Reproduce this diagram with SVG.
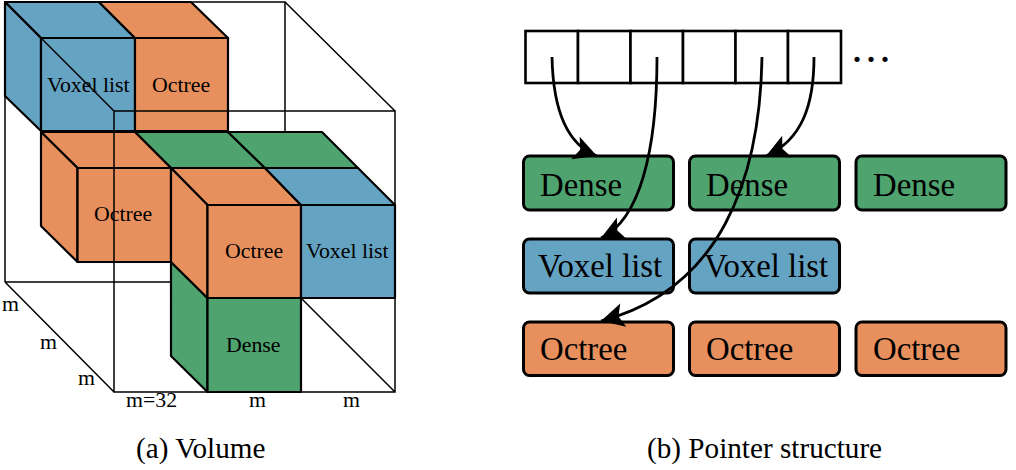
<svg xmlns="http://www.w3.org/2000/svg" width="1016" height="470" viewBox="0 0 1016 470">
<style>
text{font-family:"Liberation Serif","Times New Roman",serif;fill:#000}
.s{font-size:21.800px}
.b{font-size:32.800px}
.c{font-size:29.200px}
.f{fill:none;stroke:#000;stroke-width:1.5}
.g,.bl,.o{stroke:#000;stroke-width:2.200;stroke-linejoin:round}
.g{fill:#4fa36f}.bl{fill:#65a3c3}.o{fill:#e8905d}
.box{stroke-width:3}
.cell{fill:#fff;stroke:#000;stroke-width:2.600}
.arrow{fill:none;stroke:#000;stroke-width:2.800;marker-end:url(#head)}
</style>
<defs>
<marker id="head" markerUnits="userSpaceOnUse" markerWidth="30" markerHeight="30" refX="24" refY="13" orient="auto">
<path d="M24 13L1 1L6 13L1 25Z" fill="#000"/>
</marker>
</defs>
<g id="back-frame">
<path class="f" d="M5 282V2H285V132M5 282H171"/>
</g>
<g id="cube-voxel-top">
<path class="bl" d="M5 2H99L135 38H41Z"/>
<path class="bl" d="M5 2L41 38V131L5 96Z"/>
<rect class="bl" x="41" y="38" width="94" height="93"/>
</g>
<g id="cube-octree-top">
<path class="o" d="M99 2H191L228 38H135Z"/>
<rect class="o" x="135" y="38" width="93" height="93"/>
</g>
<g id="cube-dense-top">
<path class="g" d="M135 132H228L265 168H171Z"/>
<path class="g" d="M228 132H322L358 168H265Z"/>
</g>
<g id="cube-octree-mid">
<path class="o" d="M41 132H135L171 168H77.500Z"/>
<path class="o" d="M41 132L77.500 168V262L41 226Z"/>
<rect class="o" x="77.500" y="168" width="93.500" height="94"/>
</g>
<g id="cube-dense-front">
<path class="g" d="M171 262L207.500 298V392L171 356Z"/>
<rect class="g" x="207.500" y="298" width="93.500" height="94"/>
</g>
<g id="cube-octree-front">
<path class="o" d="M171 168H265L301 205H207.500Z"/>
<path class="o" d="M171 168L207.500 205V298L171 262Z"/>
<rect class="o" x="207.500" y="205" width="93.500" height="93"/>
</g>
<g id="cube-voxel-front">
<path class="bl" d="M265 168H358L395 205H301Z"/>
<rect class="bl" x="301" y="205" width="94" height="93"/>
</g>
<g id="front-frame">
<path class="f" d="M114 111H395V392H114ZM5 2L114 111M285 2L395 111M5 282L114 392M301 298L395 392"/>
</g>
<g id="volume-labels">
<text class="s" x="47" y="92">Voxel list</text>
<text class="s" x="152" y="92">Octree</text>
<text class="s" x="94" y="221">Octree</text>
<text class="s" x="225" y="258">Octree</text>
<text class="s" x="306" y="258">Voxel list</text>
<text class="s" x="226" y="352">Dense</text>
<text class="s" x="2" y="311">m</text>
<text class="s" x="40" y="349">m</text>
<text class="s" x="78" y="385">m</text>
<text class="s" x="126" y="407">m=32</text>
<text class="s" x="249" y="407">m</text>
<text class="s" x="343" y="407">m</text>
<text class="c" x="136" y="458">(a) Volume</text>
</g>
<g id="pointer-array">
<rect class="cell" x="525.500" y="31" width="52.500" height="52"/>
<rect class="cell" x="578" y="31" width="52.500" height="52"/>
<rect class="cell" x="630.500" y="31" width="52.500" height="52"/>
<rect class="cell" x="683" y="31" width="52.500" height="52"/>
<rect class="cell" x="735.500" y="31" width="52.500" height="52"/>
<rect class="cell" x="788" y="31" width="53" height="52"/>
<text x="851.500" y="62" style="font-size:44px;letter-spacing:3px">...</text>
</g>
<g id="dense-1"><rect class="g box" x="523.500" y="156" width="150" height="54" rx="6"/><text class="b" x="540" y="196">Dense</text></g>
<g id="dense-2"><rect class="g box" x="689.500" y="156" width="150" height="54" rx="6"/><text class="b" x="706" y="196">Dense</text></g>
<g id="dense-3"><rect class="g box" x="856" y="156" width="150" height="54" rx="6"/><text class="b" x="873" y="196">Dense</text></g>
<g id="voxel-1"><rect class="bl box" x="523.500" y="239" width="150" height="54" rx="6"/><text class="b" x="538" y="277">Voxel list</text></g>
<g id="voxel-2"><rect class="bl box" x="689.500" y="239" width="150" height="54" rx="6"/><text class="b" x="704" y="277">Voxel list</text></g>
<g id="octree-1"><rect class="o box" x="523.500" y="322" width="150" height="53.500" rx="6"/><text class="b" x="540" y="360">Octree</text></g>
<g id="octree-2"><rect class="o box" x="689.500" y="322" width="150" height="53.500" rx="6"/><text class="b" x="706" y="360">Octree</text></g>
<g id="octree-3"><rect class="o box" x="856" y="322" width="150" height="53.500" rx="6"/><text class="b" x="873" y="360">Octree</text></g>
<g id="connectors">
<path class="arrow" d="M552 57C553 105 565 144 597 156"/>
<path class="arrow" d="M657 57C657 150 640 220 601 238"/>
<path class="arrow" d="M762 57C760 180 720 290 601 321"/>
<path class="arrow" d="M814 57C814 105 802 140 766 156"/>
</g>
<text class="c" x="647" y="458">(b) Pointer structure</text>
</svg>
